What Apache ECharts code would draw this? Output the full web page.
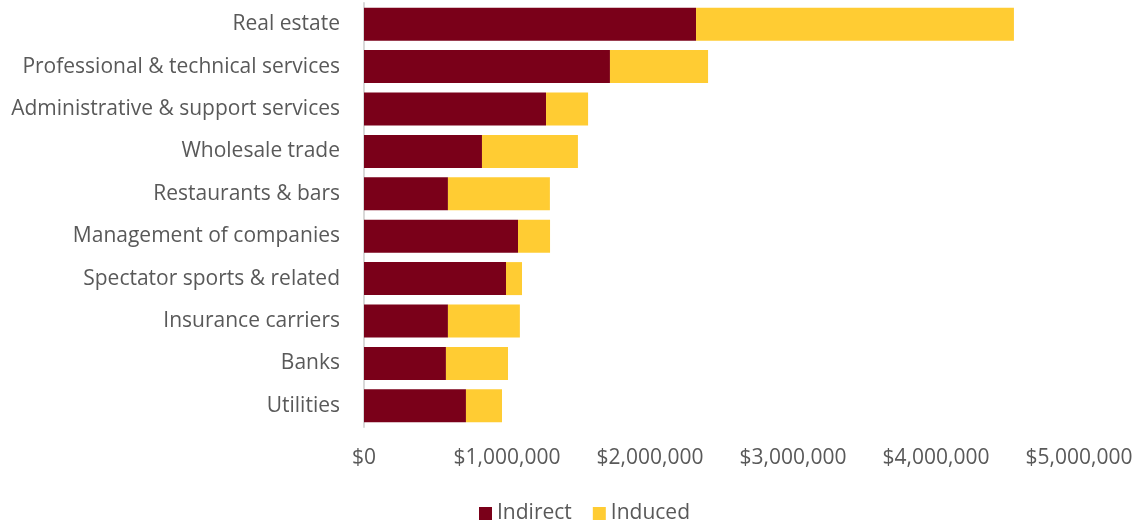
<!DOCTYPE html>
<html>
<head>
<meta charset="utf-8">
<script src="https://cdn.jsdelivr.net/npm/echarts@6/dist/echarts.min.js"></script>
<style>
  html, body { margin: 0; padding: 0; background: #fff; }
  #chart { width: 1137px; height: 525px; }
</style>
</head>
<body>
<div id="chart"></div>
<script>
// Industries, top to bottom
const categories = [
  'Real estate',
  'Professional & technical services',
  'Administrative & support services',
  'Wholesale trade',
  'Restaurants & bars',
  'Management of companies',
  'Spectator sports & related',
  'Insurance carriers',
  'Banks',
  'Utilities'
];

// Dollar impact by industry
const indirect = [2322000, 1720000, 1273000, 825000, 587000, 1077000, 993000, 587000, 573000, 713000];
const induced  = [2223000,  686000,  294000, 671000, 713000,  224000, 112000, 503000, 434000, 252000];

const xTicks = { min: 0, max: 5000000, step: 1000000 };

const font = '"Open Sans", sans-serif';
const fontSize = 21;
const textColor = '#595959';

function money(v) {
  return '$' + Math.round(v).toString().replace(/\B(?=(\d{3})+(?!\d))/g, ',');
}

const chart = echarts.init(document.getElementById('chart'));
chart.setOption({
  animation: false,
  textStyle: { fontFamily: font, color: textColor },
  grid: { left: 364, right: 58, top: 3, bottom: 98, containLabel: false },
  legend: {
    top: 498,
    left: 474,
    itemWidth: 13,
    itemHeight: 13,
    itemGap: 21,
    icon: 'rect',
    textStyle: { fontFamily: font, fontSize: fontSize, color: textColor },
    data: ['Indirect', 'Induced']
  },
  xAxis: {
    type: 'value',
    min: xTicks.min,
    max: xTicks.max,
    interval: xTicks.step,
    axisLine: { show: false },
    axisTick: { show: false },
    splitLine: { show: false },
    axisLabel: {
      formatter: money,
      fontFamily: font,
      fontSize: fontSize,
      color: textColor,
      margin: 21
    }
  },
  yAxis: {
    type: 'category',
    inverse: true,
    data: categories,
    axisLine: { show: true, lineStyle: { color: '#d9d9d9', width: 2 } },
    axisTick: { show: false },
    axisLabel: { fontFamily: font, fontSize: fontSize, color: textColor, margin: 24 }
  },
  series: [
    {
      name: 'Indirect',
      type: 'bar',
      stack: 'total',
      barWidth: 33,
      itemStyle: { color: '#7a0019' },
      data: indirect
    },
    {
      name: 'Induced',
      type: 'bar',
      stack: 'total',
      barWidth: 33,
      itemStyle: { color: '#ffcc33' },
      data: induced
    }
  ]
});
</script>
</body>
</html>
